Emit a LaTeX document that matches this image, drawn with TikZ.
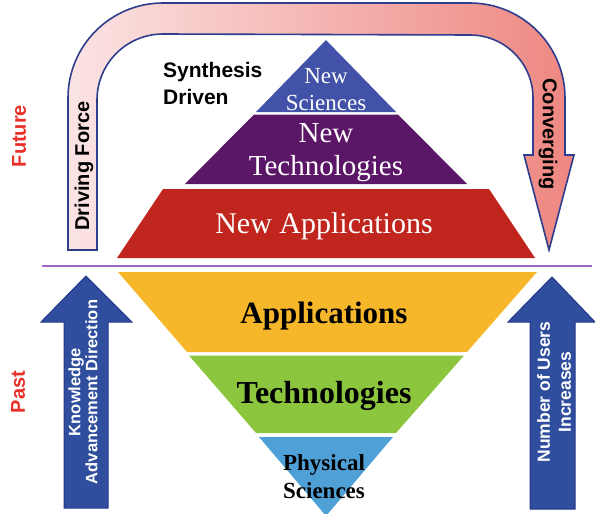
\documentclass[tikz,border=0pt]{standalone}
\usepackage{fontspec}
\setmainfont{Liberation Serif}
\setsansfont{Liberation Sans}
\definecolor{pyblue}{RGB}{66,82,168}
\definecolor{pypurple}{RGB}{92,22,104}
\definecolor{pyred}{RGB}{192,38,30}
\definecolor{pyyellow}{RGB}{246,184,42}
\definecolor{pygreen}{RGB}{140,198,62}
\definecolor{pylblue}{RGB}{80,160,216}
\definecolor{arrblue}{RGB}{48,78,158}
\definecolor{arredge}{RGB}{36,56,138}
\definecolor{uedge}{RGB}{46,61,140}
\definecolor{upink}{RGB}{251,228,228}
\definecolor{usalmon}{RGB}{238,134,128}
\definecolor{futred}{RGB}{232,48,42}
\definecolor{divline}{RGB}{160,100,200}
\begin{document}
\begin{tikzpicture}[x=1pt,y=1pt,
  sanslbl/.style={font=\fontsize{20}{24}\selectfont\sffamily\bfseries, text=black, inner sep=0pt},
  timelbl/.style={font=\fontsize{20}{24}\selectfont\sffamily\bfseries, text=futred, inner sep=0pt, rotate=90},
  arrtxt/.style={text=white, align=center, inner sep=0pt, rotate=90},
  toptxt/.style={text=white, align=center, inner sep=0pt, anchor=base},
  bottxt/.style={text=black, align=center, inner sep=0pt, anchor=base},
  bigarrow/.style={fill=arrblue, draw=arredge, line width=1pt, line join=miter}]
\useasboundingbox (0,0) rectangle (595,-514);

% U-shaped arrow
\path[draw=uedge, line width=1.6pt, left color=upink, right color=usalmon, line join=miter]
  (68,-250) -- (68,-98) arc[start angle=180, end angle=90, radius=95]
  -- (470,-3) arc[start angle=90, end angle=0, radius=95]
  -- (565,-155) -- (574,-155) -- (549,-250) -- (524,-155) -- (533,-155)
  -- (533,-98) arc[start angle=0, end angle=90, radius=63]
  -- (163,-34) arc[start angle=90, end angle=180, radius=66]
  -- (97,-250) -- cycle;
\node[sanslbl, rotate=90] (drv) at (84,-166) {Driving Force};
\node[sanslbl, rotate=-90] (conv) at (548,-134) {Converging};

% upper pyramid
\fill[pyblue] (326,-40) -- (396,-112) -- (256,-112) -- cycle;
\fill[pypurple] (254,-114.5) -- (398,-114.5) -- (467,-184) -- (185,-184) -- cycle;
\fill[pyred] (163,-189) -- (489,-189) -- (535,-258) -- (117,-258) -- cycle;

% divider
\draw[divline, line width=1.4pt] (42,-266) -- (592,-266);

% lower pyramid
\fill[pyyellow] (118,-272) -- (537,-272) -- (467,-352) -- (187,-352) -- cycle;
\fill[pygreen] (189,-355.5) -- (464,-355.5) -- (396,-433) -- (256,-433) -- cycle;
\fill[pylblue] (259,-437) -- (393,-437) -- (326,-516) -- cycle;

% blue arrows
\path[bigarrow] (86,-276) -- (132,-322) -- (108,-322) -- (108,-508) -- (64,-508) -- (64,-322) -- (41,-322) -- cycle;
\path[bigarrow] (552,-277) -- (595,-322) -- (575,-322) -- (575,-509) -- (530,-509) -- (530,-322) -- (508,-322) -- cycle;

% labels
\node[timelbl] (fut) at (19,-136) {Future};
\node[timelbl] (past) at (18,-392) {Past};
\node[sanslbl, font=\fontsize{21}{27}\selectfont\sffamily\bfseries, anchor=base west] (syn) at (163,-77) {Synthesis};
\node[sanslbl, font=\fontsize{21}{27}\selectfont\sffamily\bfseries, anchor=base west] (drvn) at (163,-104) {Driven};
\node[arrtxt, font=\fontsize{16.5}{17}\selectfont\sffamily\bfseries] (know) at (83,-392) {Knowledge\\Advancement Direction};
\node[arrtxt, font=\fontsize{17.5}{21}\selectfont\sffamily\bfseries] (users) at (554,-392) {Number of Users\\Increases};

\node[toptxt, font=\fontsize{23}{27}\selectfont] (nsci) at (326,-110) {New\\Sciences};
\node[toptxt, font=\fontsize{29}{33}\selectfont] (ntech) at (326,-175) {New\\Technologies};
\node[toptxt, font=\fontsize{30}{34}\selectfont] (napp) at (324,-233) {New Applications};
\node[bottxt, font=\fontsize{31}{34}\selectfont\bfseries] (app) at (324,-323) {Applications};
\node[bottxt, font=\fontsize{32}{34}\selectfont\bfseries] (tech) at (324,-403) {Technologies};
\node[bottxt, font=\fontsize{23}{28}\selectfont\bfseries] (phys) at (324,-498) {Physical\\Sciences};
\end{tikzpicture}
\end{document}
